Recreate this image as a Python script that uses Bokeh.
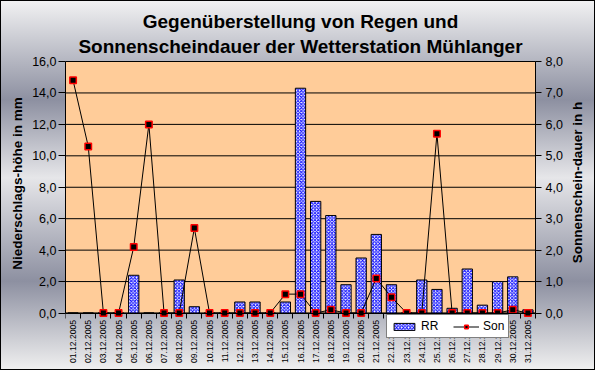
from math import pi
from bokeh.plotting import figure
from bokeh.models import (Range1d, LinearAxis, FixedTicker, Legend, LegendItem,
                          BoxAnnotation, ColumnDataSource)
from bokeh.core.properties import value
from bokeh.embed import file_html
from bokeh.resources import INLINE

# ---- data ----
days = list(range(1, 32))
date_labels = ["01.12.2005", "02.12.2005", "03.12.2005", "04.12.2005", "05.12.2005",
               "06.12.2005", "07.12.2005", "08.12.2005", "09.12.2005", "10.12.2005",
               "11.12.2005", "12.12.2005", "13.12.2005", "14.12.2005", "15.12.2005",
               "16.12.2005", "17.12.2005", "18.12.2005", "19.12.2005", "20.12.2005",
               "21.12.2005", "22.12.2005", "23.12.2005", "24.12.2005", "25.12.2005",
               "26.12.2005", "27.12.2005", "28.12.2005", "29.12.2005", "30.12.2005",
               "31.12.2005"]
rr = [0, 0, 0, 0, 2.4, 0, 0, 2.1, 0.4, 0, 0, 0.7, 0.7, 0, 0.7, 14.3, 7.1, 6.2,
      1.8, 3.5, 5.0, 1.8, 0, 2.1, 1.5, 0.3, 2.8, 0.5, 2.0, 2.3, 0.2]
son = [7.4, 5.3, 0, 0, 2.1, 6.0, 0, 0, 2.7, 0, 0, 0, 0, 0, 0.6, 0.6, 0, 0.1,
       0, 0, 1.1, 0.5, 0, 0, 5.7, 0, 0, 0, 0, 0.1, 0]
left_ticks = [0, 2, 4, 6, 8, 10, 12, 14, 16]
left_tick_labels = ["0,0", "2,0", "4,0", "6,0", "8,0", "10,0", "12,0", "14,0", "16,0"]
right_ticks = [0, 1, 2, 3, 4, 5, 6, 7, 8]
right_tick_labels = ["0,0", "1,0", "2,0", "3,0", "4,0", "5,0", "6,0", "7,0", "8,0"]
title_lines = ["Gegenüberstellung von Regen und",
               "Sonnenscheindauer der Wetterstation Mühlanger"]
left_title = "Niederschlags-höhe in mm"
right_title = "Sonnenschein-dauer in h"

FONT = "Liberation Sans"

# ---- layout (pixels) ----
W, H = 595, 370
L, R, T, B = 65, 0, 2, 6            # frame borders (frame also holds title/labels)
TOP_Y = 61.0                        # screen y of value 16
ZERO_Y = 312.5                      # screen y of value 0
PLOT_RIGHT = 535.0                  # screen x of the right edge of the plot area
RIGHT_TITLE_X = 577.0               # screen x centre of the right axis title
AXIS_TITLE_Y = 182.0                # screen y centre of the axis titles
RR_MAX, SON_MAX = 16, 8
X0, X1 = 0.5, 31.5
px_per_unit = (ZERO_Y - TOP_Y) / RR_MAX
px_per_day = (PLOT_RIGHT - L) / (X1 - X0)
rr_max_range = RR_MAX + (TOP_Y - T) / px_per_unit
rr_min_range = -((H - B) - ZERO_Y) / px_per_unit
x_max_range = X1 + ((W - R) - PLOT_RIGHT) / px_per_day
ratio = SON_MAX / RR_MAX

p = figure(width=W, height=H, output_backend="svg", toolbar_location=None,
           title=None,
           x_range=Range1d(X0, x_max_range), y_range=Range1d(rr_min_range, rr_max_range),
           min_border_left=L, min_border_right=R, min_border_top=T,
           min_border_bottom=B)
p.extra_y_ranges = {"son": Range1d(rr_min_range * ratio, rr_max_range * ratio)}

p.background_fill_alpha = 0
p.border_fill_alpha = 0
p.outline_line_color = None
p.styles = {
    "background": "linear-gradient(to bottom, #f2f2f3 0%, #8d90a1 27%, #e6e6e9 48%, #8d90a1 76%, #f0f0f0 100%)",
    "outline": "1px solid black",
    "outline-offset": "-1px",
}

# plot area (value range 0..16)
area = BoxAnnotation(left=X0, right=X1, bottom=0, top=RR_MAX, fill_color="#FFCC99",
                     fill_alpha=1, line_color="black", line_width=1, level="image")
p.add_layout(area)

# horizontal grid lines
p.xgrid.visible = False
p.ygrid.visible = False
p.segment(x0=[X0] * len(left_ticks), x1=[X1] * len(left_ticks),
          y0=left_ticks, y1=left_ticks, line_color="black", line_width=1)

# title (two centred lines above the plot area)
title_src = ColumnDataSource(dict(x=[(X0 + X1) / 2] * 2, y=[RR_MAX] * 2,
                                  text=title_lines, dy=[-40, -15]))
p.text(x="x", y="y", text="text", y_offset="dy", source=title_src,
       text_align="center", text_baseline="middle",
       text_font=value(FONT), text_font_size=value("19px"),
       text_font_style="bold", text_color="black")

# bars
bars = p.vbar(x=days, top=rr, width=0.68, fill_color="white", line_color="black",
              line_width=1, hatch_pattern="diagonal_cross", hatch_color="#0000ff",
              hatch_scale=3.4, hatch_weight=1.0)
# sunshine line
ln = p.line(x=days, y=son, y_range_name="son", line_color="black", line_width=1)
pts = p.scatter(x=days, y=son, y_range_name="son", marker="square", size=6.5,
                fill_color="black", line_color="red", line_width=1.5)

# x axis at value 0 (tick marks between days), date labels as rotated text below
xa = p.xaxis[0]
xa.fixed_location = 0
xa.bounds = (X0, X1)
xa.ticker = FixedTicker(ticks=[], minor_ticks=[d - 0.5 for d in days] + [X1])
xa.major_tick_out = 0
xa.major_tick_in = 0
xa.minor_tick_out = 5
xa.minor_tick_in = 0
xa.minor_tick_line_color = "black"
xa.major_label_standoff = 0
xa.axis_line_color = "black"

p.text(x=days, y=[0] * len(days), text=date_labels, angle=pi / 2,
       text_align="right", text_baseline="middle", y_offset=7,
       text_font=value(FONT), text_font_size=value("8.6px"), text_color="black")

ya = p.yaxis[0]
ya.bounds = (0, RR_MAX)
ya.ticker = FixedTicker(ticks=left_ticks)
ya.major_label_overrides = {t: lab for t, lab in zip(left_ticks, left_tick_labels)}
ya.major_tick_out = 7
ya.major_tick_in = 0
ya.minor_tick_line_color = None
ya.major_label_standoff = 2
ya.major_label_text_font = FONT
ya.major_label_text_font_size = "12.5px"
ya.major_label_text_color = "black"
ya.axis_line_color = "black"
ya.axis_label = left_title
ya.axis_label_text_font = FONT
ya.axis_label_text_font_size = "13.5px"
ya.axis_label_text_font_style = "bold"
ya.axis_label_text_color = "black"
ya.axis_label_standoff = 4

# right axis drawn at the right edge of the plot area
ra = LinearAxis(y_range_name="son", ticker=FixedTicker(ticks=right_ticks),
                bounds=(0, SON_MAX), fixed_location=X1)
ra.major_label_overrides = {t: lab for t, lab in zip(right_ticks, right_tick_labels)}
ra.major_tick_out = 6
ra.major_tick_in = 0
ra.minor_tick_line_color = None
ra.major_label_standoff = 4
ra.major_label_text_font = FONT
ra.major_label_text_font_size = "12.5px"
ra.major_label_text_color = "black"
ra.axis_line_color = "black"
p.add_layout(ra, "right")

# right axis title, reading bottom to top
p.text(x=[X1 + (RIGHT_TITLE_X - PLOT_RIGHT) / px_per_day],
       y=[(ZERO_Y - AXIS_TITLE_Y) / px_per_unit], text=[right_title], angle=pi / 2,
       text_align="center", text_baseline="middle",
       text_font=value(FONT), text_font_size=value("13.5px"),
       text_font_style="bold", text_color="black")

legend = Legend(items=[LegendItem(label="RR", renderers=[bars]),
                       LegendItem(label="Son", renderers=[ln, pts])],
                orientation="horizontal",
                location=(321, (H - B) - 338))
legend.border_line_color = "black"
legend.border_line_width = 1
legend.background_fill_color = "white"
legend.background_fill_alpha = 1
legend.padding = 4
legend.spacing = 12
legend.margin = 0
legend.label_standoff = 4
legend.glyph_width = 26
legend.glyph_height = 9
legend.label_text_font = FONT
legend.label_text_font_size = "12px"
legend.label_text_color = "black"
p.add_layout(legend, "center")

open("out.html", "w").write(file_html(p, INLINE))
